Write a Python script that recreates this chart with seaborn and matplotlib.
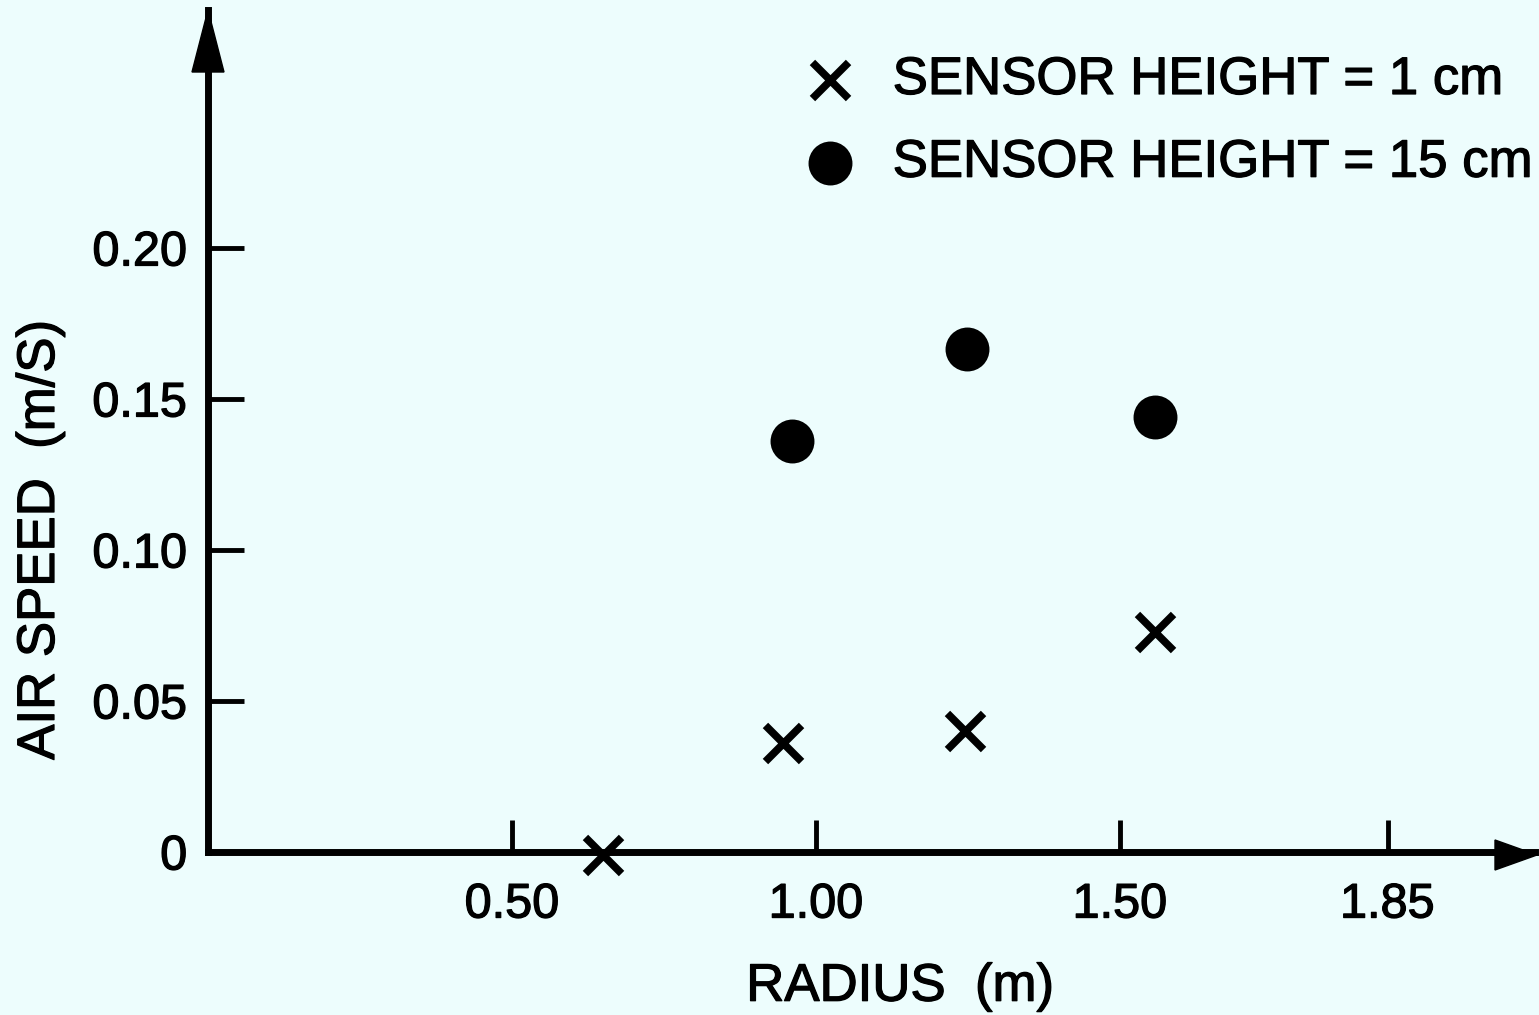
import pandas as pd
import seaborn as sns
import matplotlib
matplotlib.use("Agg")
import matplotlib.pyplot as plt  # noqa
import matplotlib.patheffects as pe  # noqa
from matplotlib.patches import Polygon  # noqa

# values
radius_1cm = [0.65, 0.946, 1.245, 1.557]
speed_1cm = [-0.001, 0.036, 0.040, 0.073]
radius_15cm = [0.96, 1.248, 1.557]
speed_15cm = [0.136, 0.1666, 0.144]

label_1cm = "SENSOR HEIGHT = 1 cm"
label_15cm = "SENSOR HEIGHT = 15 cm"

xtick_pos = [0.50, 1.00, 1.50, 1.94]
xtick_labels = ["0.50", "1.00", "1.50", "1.85"]
ytick_pos = [0.0, 0.05, 0.10, 0.15, 0.20]
ytick_labels = ["0", "0.05", "0.10", "0.15", "0.20"]

BG = "#edfdfd"
# scanned print looks heavier than the regular face
thick = [pe.withStroke(linewidth=0.9, foreground="black")]

sns.set_theme(style="white")
plt.rcParams["font.family"] = ["Liberation Sans", "DejaVu Sans"]

df_1cm = pd.DataFrame({"radius": radius_1cm, "speed": speed_1cm})
df_15cm = pd.DataFrame({"radius": radius_15cm, "speed": speed_15cm})

fig = plt.figure(figsize=(15.39, 10.15), dpi=100, facecolor=BG)
ax = fig.add_axes([208 / 1539, 163 / 1015, 1327 / 1539, 842 / 1015])
ax.set_facecolor(BG)

sns.scatterplot(data=df_1cm, x="radius", y="speed", marker="x", s=676,
                color="black", linewidth=5.5, label=label_1cm, ax=ax,
                zorder=3, clip_on=False)
sns.scatterplot(data=df_15cm, x="radius", y="speed", marker="o", s=1000,
                color="black", edgecolor="black", linewidth=0,
                label=label_15cm, ax=ax, zorder=3, clip_on=False)

ax.set_xlim(0, 2.1826)
ax.set_ylim(0, 0.2788)

for side in ["top", "right"]:
    ax.spines[side].set_visible(False)
for side in ["left", "bottom"]:
    ax.spines[side].set_linewidth(5)
    ax.spines[side].set_color("black")

ax.set_xticks(xtick_pos)
ax.set_xticklabels(xtick_labels)
ax.set_yticks(ytick_pos)
ax.set_yticklabels(ytick_labels)
ax.tick_params(axis="x", direction="in", length=23, width=3.5, pad=22,
               labelsize=35, colors="black", bottom=True)
ax.tick_params(axis="y", direction="in", length=26, width=3.5, pad=15,
               labelsize=35, colors="black", left=True)

ax.set_xlabel("RADIUS  (m)", fontsize=38, color="black")
ax.set_ylabel("AIR SPEED  (m/S)", fontsize=38, color="black")
ax.xaxis.label.set_va("center")
ax.yaxis.label.set_va("center")
ax.xaxis.set_label_coords(0.5215, -0.16)
ax.yaxis.set_label_coords(-0.1266, 0.3705)

# arrow heads on the axes
tf = ax.transAxes
ax.add_patch(Polygon([(0, 1.0), (-16 / 1327, 1 - 62 / 842), (16 / 1327, 1 - 62 / 842)],
                     closed=True, color="black", transform=tf, clip_on=False, zorder=4))
ax.add_patch(Polygon([(1.0015, -3 / 842), (1 - 40 / 1327, 12 / 842), (1 - 40 / 1327, -18 / 842)],
                     closed=True, color="black", transform=tf, clip_on=False, zorder=4))

handles, labels = ax.get_legend_handles_labels()
leg = ax.legend(handles, labels, loc="upper left", frameon=False,
                bbox_to_anchor=(804 / 1539, 1 - 55 / 1015),
                bbox_transform=fig.transFigure, borderpad=0, borderaxespad=0,
                fontsize=38, handlelength=1.0, handletextpad=0.68,
                labelspacing=0.62)

texts = (list(leg.get_texts()) + ax.get_xticklabels() + ax.get_yticklabels()
         + [ax.xaxis.label, ax.yaxis.label])
for t in texts:
    t.set_color("black")
    t.set_path_effects(thick)

fig.savefig("out.png", dpi=100, facecolor=BG)
